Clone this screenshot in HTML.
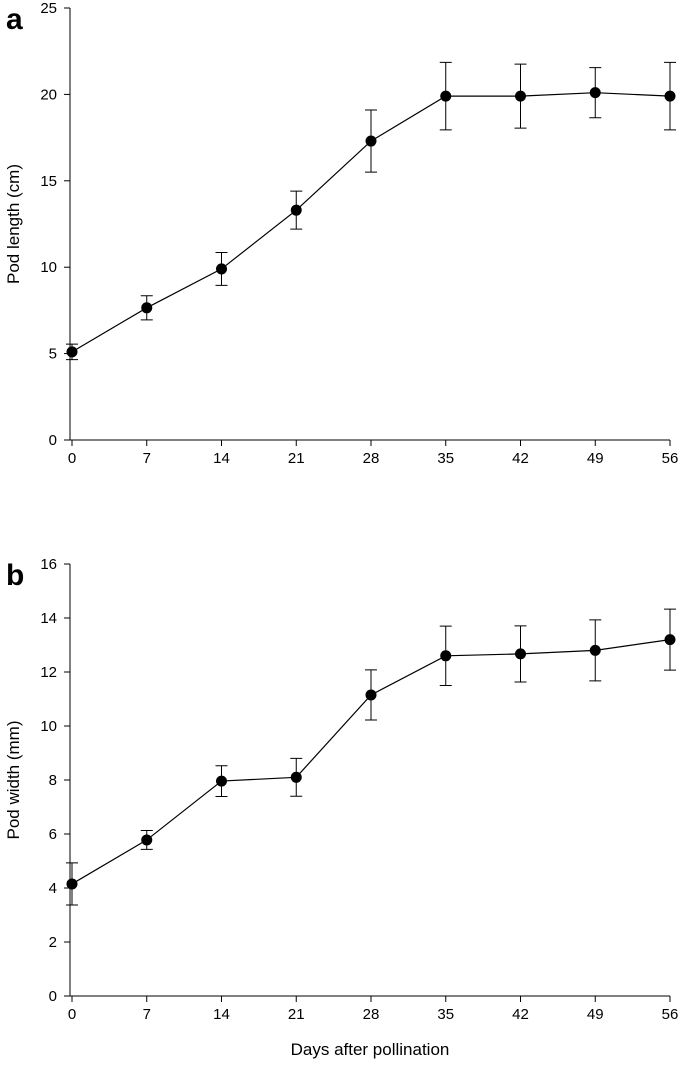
<!DOCTYPE html>
<html><head><meta charset="utf-8">
<style>
html,body{margin:0;padding:0;background:#fff;}
svg{display:block;font-family:"Liberation Sans",Arial,sans-serif;}
</style></head>
<body>
<svg id="chart" width="685" height="1071" viewBox="0 0 685 1071" xmlns="http://www.w3.org/2000/svg"></svg>
<script>
const days = [0,7,14,21,28,35,42,49,56];
const lengthVals = [5.1,7.65,9.9,13.3,17.3,19.9,19.9,20.1,19.9];
const lengthErr = [0.45,0.7,0.95,1.1,1.8,1.95,1.85,1.45,1.95];
const widthVals = [4.15,5.78,7.96,8.1,11.15,12.6,12.67,12.8,13.2];
const widthErr = [0.78,0.35,0.57,0.7,0.93,1.1,1.04,1.13,1.13];
const lengthTicks = [0,5,10,15,20,25];
const widthTicks = [0,2,4,6,8,10,12,14,16];
const xTicks = [0,7,14,21,28,35,42,49,56];

const svg = document.getElementById('chart');
const NS = 'http://www.w3.org/2000/svg';
function mk(tag, attrs, parent){
  const e = document.createElementNS(NS, tag);
  for (const k in attrs) e.setAttribute(k, attrs[k]);
  (parent||svg).appendChild(e);
  return e;
}
const x0 = 72, x1 = 670;
const xs = d => x0 + (d-0)/56*(x1-x0);

function panel(opts){
  const g = mk('g', {});
  
  
  const ys = v => opts.yBot - (v-opts.yMin)/(opts.yMax-opts.yMin)*(opts.yBot-opts.yTop);
  const ya = mk('line', {x1:70,y1:opts.yTop,x2:70,y2:opts.yBot,stroke:'#000','stroke-width':1}, g);
  
  
  const xa = mk('line', {x1:70,y1:opts.yBot,x2:x1,y2:opts.yBot,stroke:'#000','stroke-width':1}, g);
  
  
  opts.yTicks.forEach(t=>{
    const y = ys(t);
    mk('line',{x1:64,y1:y,x2:70,y2:y,stroke:'#000'},g);
    const tx = mk('text',{x:57,y:y+5,'text-anchor':'end','font-size':15},g);
    tx.textContent = t;
    
    
  });
  xTicks.forEach(t=>{
    const x = xs(t);
    mk('line',{x1:x,y1:opts.yBot,x2:x,y2:opts.yBot+6,stroke:'#000'},g);
    const tx = mk('text',{x:x,y:opts.yBot+23,'text-anchor':'middle','font-size':15},g);
    tx.textContent = t;
    
    
  });
  const yt = mk('text',{x:0,y:0,'text-anchor':'middle','font-size':17,transform:`translate(19,${(opts.yTop+opts.yBot)/2}) rotate(-90)`},g);
  yt.textContent = opts.yTitle;
  
  
  const lb = mk('text',{x:6,y:opts.yTop+21,'font-size':30,'font-weight':'bold'},g);
  lb.textContent = opts.label;
  
  
  const pts = days.map((d,i)=>xs(d)+','+ys(opts.vals[i])).join(' ');
  const pl = mk('polyline',{points:pts,fill:'none',stroke:'#000','stroke-width':1.2},g);
  
  
  days.forEach((d,i)=>{
    const x = xs(d), hi = ys(opts.vals[i]+opts.err[i]), lo = ys(opts.vals[i]-opts.err[i]);
    const eb = mk('path',{d:`M${x},${hi}V${lo}M${x-6},${hi}H${x+6}M${x-6},${lo}H${x+6}`,stroke:'#000',fill:'none','stroke-width':1},g);
    
    
    const c = mk('circle',{cx:x,cy:ys(opts.vals[i]),r:5.5,fill:'#000'},g);
    
    
  });
}
panel({name:'pod-length-panel',label:'a',yTitle:'Pod length (cm)',yTop:8,yBot:440,yMin:0,yMax:25,yTicks:lengthTicks,vals:lengthVals,err:lengthErr});
panel({name:'pod-width-panel',label:'b',yTitle:'Pod width (mm)',yTop:564,yBot:996,yMin:0,yMax:16,yTicks:widthTicks,vals:widthVals,err:widthErr});
const xt = mk('text',{x:370,y:1055,'text-anchor':'middle','font-size':17});
xt.textContent = 'Days after pollination';


</script>
</body></html>
